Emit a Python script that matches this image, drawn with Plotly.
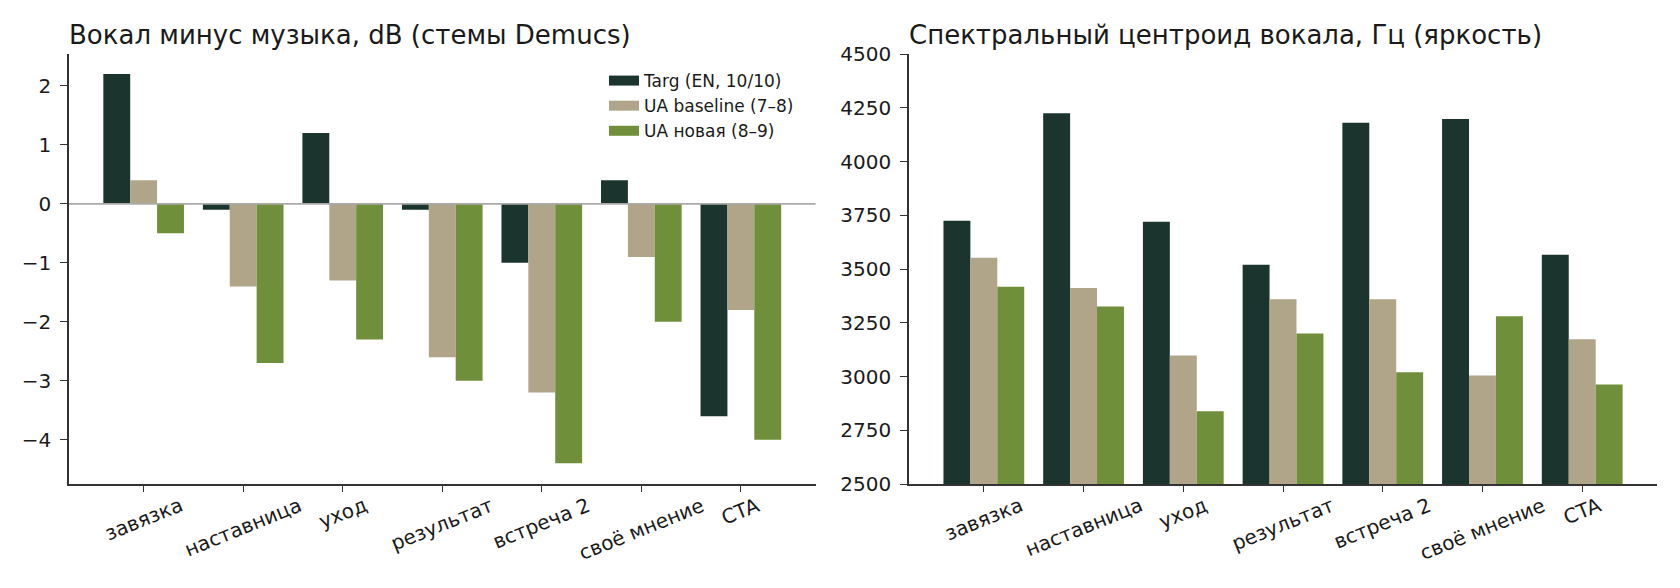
import plotly.graph_objects as go

# сцены
scenes = ["завязка", "наставница", "уход", "результат", "встреча 2", "своё мнение", "CTA"]

series_names = ["Targ (EN, 10/10)", "UA baseline (7–8)", "UA новая (8–9)"]
colors = ["#1b342d", "#b0a589", "#6f8f3a"]

# вокал минус музыка, dB
db_targ = [2.2, -0.1, 1.2, -0.1, -1.0, 0.4, -3.6]
db_base = [0.4, -1.4, -1.3, -2.6, -3.2, -0.9, -1.8]
db_new = [-0.5, -2.7, -2.3, -3.0, -4.4, -2.0, -4.0]

# спектральный центроид, Гц
hz_targ = [3725, 4225, 3720, 3520, 4180, 4198, 3566]
hz_base = [3552, 3412, 3098, 3359, 3359, 3005, 3173]
hz_new = [3417, 3326, 2838, 3200, 3020, 3280, 2963]

left_ticks = [-4, -3, -2, -1, 0, 1, 2]
right_ticks = [2500, 2750, 3000, 3250, 3500, 3750, 4000, 4250, 4500]

FONT = "DejaVu Sans"
INK = "#1a1a1a"
SPINE = "#333333"

fig = go.Figure()

for name, col, vals in zip(series_names, colors, [db_targ, db_base, db_new]):
    fig.add_trace(go.Bar(x=scenes, y=vals, marker_color=col, marker_line_width=0,
                         name=name, showlegend=False, xaxis="x", yaxis="y"))
for name, col, vals in zip(series_names, colors, [hz_targ, hz_base, hz_new]):
    fig.add_trace(go.Bar(x=scenes, y=vals, marker_color=col, marker_line_width=0,
                         name=name, showlegend=False, xaxis="x2", yaxis="y2"))

# legend-only entries (wide swatches like matplotlib)
for name, col in zip(series_names, colors):
    fig.add_trace(go.Scatter(x=[None], y=[None], mode="lines", name=name,
                             line=dict(color=col, width=12), xaxis="x", yaxis="y"))

xcommon = dict(type="category", range=[-0.75, 6.75], showgrid=False, zeroline=False,
               showline=True, linecolor=SPINE, linewidth=1.6, ticks="outside",
               ticklen=6, tickwidth=1.4, tickcolor=SPINE, showticklabels=False)
ycommon = dict(showgrid=False, zeroline=False, showline=True, linecolor=SPINE,
               linewidth=1.6, ticks="outside", ticklen=7, tickwidth=1.4,
               tickcolor=SPINE, ticklabelstandoff=5,
               tickfont=dict(family=FONT, size=20, color=INK))

# page body has an 8px margin, so the figure is 8px smaller than the window
fig.update_layout(
    width=1672, height=580,
    margin=dict(l=61, r=23, t=46, b=104),
    paper_bgcolor="white", plot_bgcolor="white",
    barmode="group", bargap=0.19, bargroupgap=0,
    font=dict(family=FONT, color=INK),
    xaxis=dict(domain=[0, 0.4701], **xcommon),
    xaxis2=dict(domain=[0.529, 1], anchor="y2", **xcommon),
    yaxis=dict(range=[-4.75, 2.54], tickvals=left_ticks,
               ticktext=[str(v).replace("-", "−") for v in left_ticks], **ycommon),
    yaxis2=dict(range=[2500, 4500], tickvals=right_ticks,
                ticktext=[str(v) for v in right_ticks], anchor="x2", **ycommon),
    legend=dict(x=0.3369, y=0.979, xanchor="left", yanchor="top",
                bgcolor="rgba(0,0,0,0)", font=dict(family=FONT, size=17, color=INK),
                itemwidth=30, tracegroupgap=0),
)

# zero line on top of bars
fig.add_shape(type="line", xref="x domain", yref="y", x0=0, x1=1, y0=0, y1=0,
              line=dict(color="#aaaaaa", width=1.7), layer="above")

# panel titles
fig.add_annotation(text="Вокал минус музыка, dB (стемы Demucs)", xref="paper", yref="paper",
                   x=0, y=1, xanchor="left", yanchor="bottom", yshift=2, xshift=-2,
                   showarrow=False, font=dict(family=FONT, size=26, color=INK))
fig.add_annotation(text="Спектральный центроид вокала, Гц (яркость)", xref="paper", yref="paper",
                   x=0.529, y=1, xanchor="left", yanchor="bottom", yshift=2, xshift=-2,
                   showarrow=False, font=dict(family=FONT, size=26, color=INK))

# rotated category labels, centred under ticks
for xr in ["x", "x2"]:
    for s in scenes:
        fig.add_annotation(text=s, xref=xr, yref="paper", x=s, y=0, xanchor="center",
                           yanchor="top", yshift=-6, textangle=-22, showarrow=False,
                           font=dict(family=FONT, size=20, color=INK))

fig.write_html("out.html")
